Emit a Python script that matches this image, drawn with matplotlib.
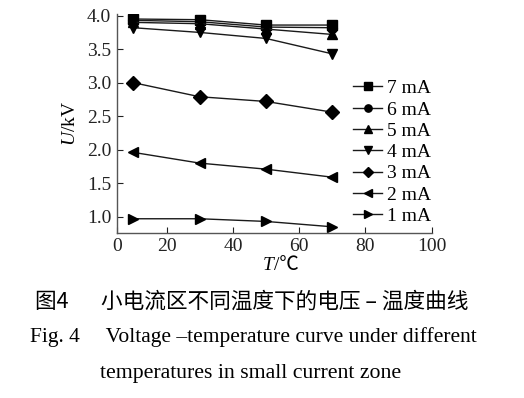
import matplotlib
matplotlib.use('Agg')
import matplotlib.pyplot as plt

# data
temps = [10, 30, 50, 70]
currents = ['7 mA', '6 mA', '5 mA', '4 mA', '3 mA', '2 mA', '1 mA']
markers = ['s', 'o', '^', 'v', 'D', '<', '>']
u_7ma = [3.95, 3.94, 3.86, 3.86]
u_6ma = [3.93, 3.91, 3.83, 3.82]
u_5ma = [3.90, 3.88, 3.80, 3.72]
u_4ma = [3.82, 3.75, 3.66, 3.43]
u_3ma = [3.00, 2.79, 2.72, 2.56]
u_2ma = [1.96, 1.80, 1.71, 1.59]
u_1ma = [0.97, 0.97, 0.93, 0.85]
series = [u_7ma, u_6ma, u_5ma, u_4ma, u_3ma, u_2ma, u_1ma]

xticks = [5, 20, 40, 60, 80, 100]
xticklabels = ['0', '20', '40', '60', '80', '100']
yticks = [1.0, 1.5, 2.0, 2.5, 3.0, 3.5, 4.0]

serif = ['Liberation Serif', 'Noto Sans CJK SC', 'DejaVu Serif']
plt.rcParams['font.family'] = serif
plt.rcParams['mathtext.fontset'] = 'custom'
plt.rcParams['mathtext.it'] = 'Liberation Serif:italic'
plt.rcParams['mathtext.rm'] = 'Liberation Serif'

fig = plt.figure(figsize=(5.24, 3.98), dpi=100)
ax = fig.add_axes([0.223, 0.415, 0.601, 0.549])

for vals, m, lab in zip(series, markers, currents):
    ax.plot(temps, vals, color='#1a1a1a', lw=1.0, marker=m, ms=7,
            mfc='black', mec='black', label=lab)

ax.set_xlim(5, 100)
ax.set_ylim(0.76, 4.02)
ax.set_xticks(xticks)
ax.set_xticklabels(xticklabels)
ax.set_yticks(yticks)
ax.set_yticklabels([f'{v:.1f}' for v in yticks])
ax.tick_params(direction='in', length=4, width=0.8, labelsize=14, colors='#222222', pad=4)
for s in ['top', 'right']:
    ax.spines[s].set_visible(False)
for s in ['left', 'bottom']:
    ax.spines[s].set_color('#555555')
    ax.spines[s].set_linewidth(1.0)

ax.set_ylabel('$U$/kV', fontsize=14, labelpad=6)
# x label in two parts so the degree-Celsius sign can fall back to a CJK font
fig.text(0.522, 0.333, 'T', ha='right', va='center', fontsize=14, style='italic',
         family='Liberation Serif')
fig.text(0.522, 0.333, '/\u2103', ha='left', va='center', fontsize=14,
         family=['Liberation Serif', 'Noto Sans CJK SC'])

handles, labels = ax.get_legend_handles_labels()
fig.legend(handles, labels, loc='upper left', bbox_to_anchor=(0.674, 0.8), frameon=False,
           fontsize=14, handlelength=1.5, handletextpad=0.25,
           labelspacing=0.19, markerscale=0.75, borderpad=0, borderaxespad=0)

fig.text(0.067, 0.241, '图4\u2003\u2002小电流区不同温度下的电压 – 温度曲线', ha='left', va='center',
         fontsize=15.6, family=['Noto Sans CJK SC', 'DejaVu Sans'])
fig.text(0.057, 0.153, 'Fig. 4\u2003\u2009Voltage \u2013temperature curve under different',
         ha='left', va='center', fontsize=15.5)
fig.text(0.191, 0.062, 'temperatures in small current zone',
         ha='left', va='center', fontsize=15.7)

fig.savefig('out.png', dpi=100)
